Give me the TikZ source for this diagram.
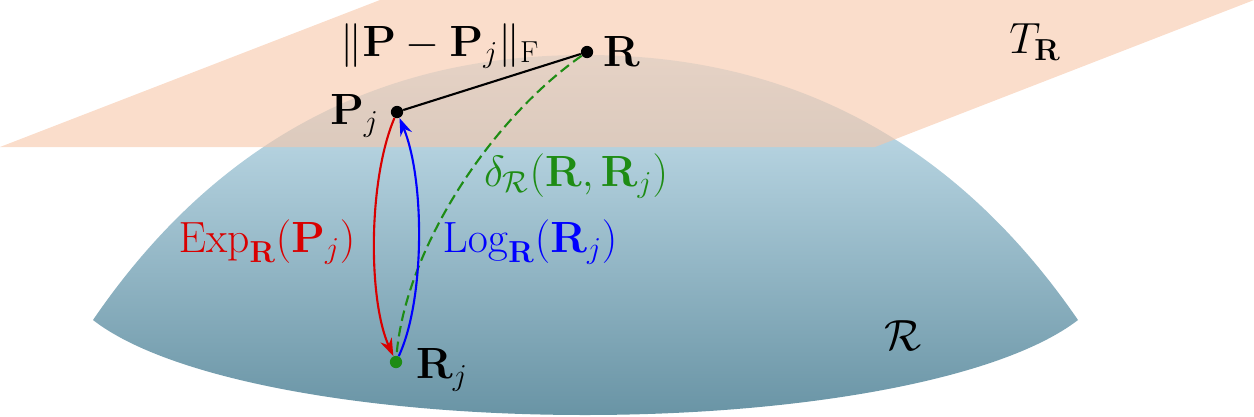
\documentclass[tikz,border=0pt]{standalone}
\usepackage{amsmath,amssymb}
\usetikzlibrary{arrows.meta}
\definecolor{peach}{RGB}{247,198,168}
\definecolor{dtop}{RGB}{205,230,242}
\definecolor{dbot}{RGB}{105,148,165}
\definecolor{dgreen}{RGB}{30,140,20}
\tikzset{pt/.style={circle,fill=black,inner sep=0pt,minimum size=7pt},
 lab/.style={font=\fontsize{23}{27}\selectfont},
 arr/.style={-{Stealth[length=10pt,width=7pt]},line width=1.2pt}}
\begin{document}
\begin{tikzpicture}[x=0.02cm,y=-0.02cm]
\useasboundingbox (0,0) rectangle (1254,416);
\shade[top color=dtop,bottom color=dbot] (93,320) .. controls (250,90) and (450,55) .. (585,55) .. controls (720,55) and (920,90) .. (1078,320) .. controls (1000,380) and (800,415) .. (585,415) .. controls (370,415) and (170,380) .. (93,320) -- cycle;
\fill[peach,opacity=0.6] (0,147) -- (380,0) -- (1254,0) -- (875,147) -- cycle;
\node[pt] (R) at (587,52) {};
\node[pt] (P) at (397,112) {};
\node[circle,fill=dgreen,inner sep=0pt,minimum size=7pt] (Rj) at (396,362) {};
\node[lab,anchor=west] (lR) at (597,52) {$\mathbf{R}$};
\node[lab,anchor=east] (lP) at (385,116) {$\mathbf{P}_j$};
\node[lab,anchor=west] (lRj) at (410,370) {$\mathbf{R}_j$};
\node[lab] (TR) at (1035,42) {$T_{\mathbf{R}}$};
\node[lab] (M) at (903,336) {$\mathcal{R}$};
\node[lab] (nrm) at (440,46) {$\|\mathbf{P}-\mathbf{P}_j\|_{\mathrm{F}}$};
\draw[line width=1.2pt] (P) -- (R);
\draw[dashed,dash pattern=on 6pt off 3pt,dgreen,line width=1.2pt] (R) .. controls (490,120) and (405,250) .. (Rj);
\draw[arr,red!85!black] (P) .. controls (368,180) and (368,300) .. (Rj);
\draw[arr,blue] (Rj) .. controls (425,300) and (425,180) .. (P);
\node[lab,text=red!85!black] (e) at (267,242) {$\mathrm{Exp}_{\mathbf{R}}(\mathbf{P}_j)$};
\node[lab,text=blue] (l) at (530,242) {$\mathrm{Log}_{\mathbf{R}}(\mathbf{R}_j)$};
\node[lab,text=dgreen] (d) at (576,176) {$\delta_{\mathcal{R}}(\mathbf{R},\mathbf{R}_j)$};
\end{tikzpicture}
\end{document}
